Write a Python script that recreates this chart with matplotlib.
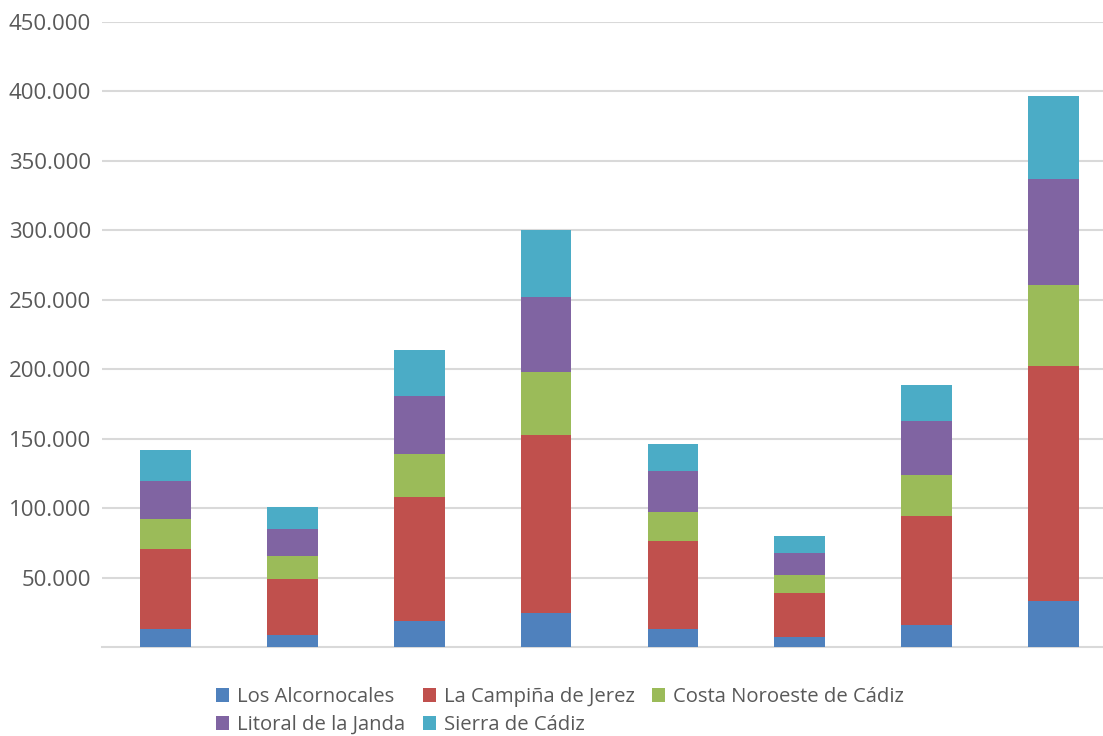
import matplotlib
matplotlib.use("Agg")
import matplotlib.pyplot as plt
import numpy as np
from matplotlib.ticker import FuncFormatter

categories = ["1", "2", "3", "4", "5", "6", "7", "8"]
series_names = ["Los Alcornocales", "La Campiña de Jerez", "Costa Noroeste de Cádiz",
                "Litoral de la Janda", "Sierra de Cádiz"]
alcornocales = [13000, 8500, 18500, 24500, 13000, 7000, 16000, 33000]
campina = [57500, 40500, 89500, 128000, 63000, 32000, 78000, 169000]
costa = [21500, 16500, 31000, 45500, 21500, 12500, 29500, 59000]
litoral = [27500, 19500, 42000, 54000, 29000, 16000, 39000, 76000]
sierra = [22500, 16000, 33000, 48000, 19500, 12500, 26500, 60000]
colors = ["#4f81bd", "#c0504d", "#9bbb59", "#8064a2", "#4bacc6"]
yticks = [50000, 100000, 150000, 200000, 250000, 300000, 350000, 400000, 450000]

plt.rcParams['font.family'] = ['Open Sans', 'DejaVu Sans']

fig = plt.figure(figsize=(11.03, 7.36), dpi=100)
ax = fig.add_axes([102/1103, 89/736, 1001/1103, 625/736])

x = np.arange(len(categories))
bottom = np.zeros(len(categories))
handles = []
for name, vals, c in zip(series_names, [alcornocales, campina, costa, litoral, sierra], colors):
    b = ax.bar(x, vals, width=0.40, bottom=bottom, color=c, label=name, zorder=3)
    handles.append(b)
    bottom += np.array(vals)

ax.set_xlim(-0.5, 7.5 - 14/127)
ax.set_ylim(0, 450000)
ax.set_yticks(yticks)
ax.yaxis.set_major_formatter(FuncFormatter(lambda v, p: f"{int(v):,}".replace(",", ".")))
ax.set_xticks([])
ax.grid(axis='y', color='#d9d9d9', linewidth=1.5, zorder=0)
for s in ['top', 'right', 'left']:
    ax.spines[s].set_visible(False)
ax.spines['bottom'].set_color('#d9d9d9')
ax.spines['bottom'].set_linewidth(1.5)
ax.tick_params(axis='y', length=0, pad=8, labelsize=16, labelcolor='#595959')

order = [0, 3, 1, 4, 2]
leg = fig.legend([handles[i] for i in order], [series_names[i] for i in order],
                 ncol=3, loc='center', bbox_to_anchor=(560/1103, 1 - 711/736),
                 frameon=False, fontsize=14.6, handlelength=0.65, handleheight=0.65,
                 handletextpad=0.4, columnspacing=0.85, labelspacing=0.4,
                 borderpad=0.2)
for t in leg.get_texts():
    t.set_color('#595959')

fig.savefig("out.png", dpi=100)
